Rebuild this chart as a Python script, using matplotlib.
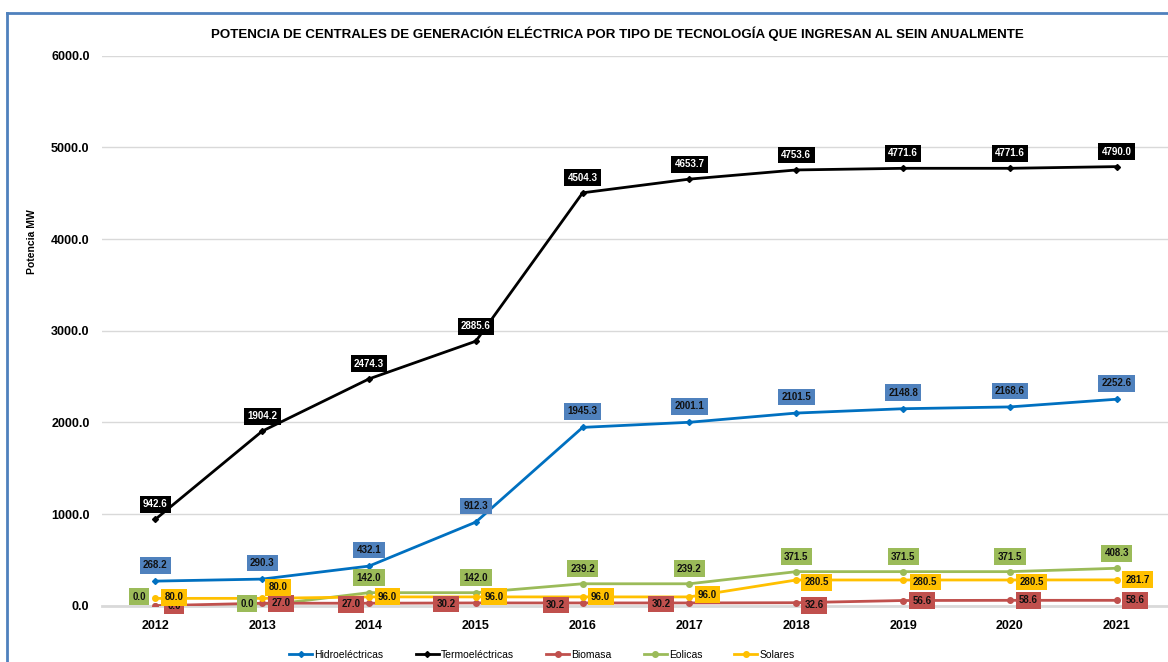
import matplotlib
matplotlib.use("Agg")
import matplotlib.pyplot as plt
from matplotlib.lines import Line2D

years = [2012, 2013, 2014, 2015, 2016, 2017, 2018, 2019, 2020, 2021]
hidro = [268.2, 290.3, 432.1, 912.3, 1945.3, 2001.1, 2101.5, 2148.8, 2168.6, 2252.6]
termo = [942.6, 1904.2, 2474.3, 2885.6, 4504.3, 4653.7, 4753.6, 4771.6, 4771.6, 4790.0]
biomasa = [0.0, 27.0, 27.0, 30.2, 30.2, 30.2, 32.6, 56.6, 58.6, 58.6]
eolicas = [0.0, 0.0, 142.0, 142.0, 239.2, 239.2, 371.5, 371.5, 371.5, 408.3]
solares = [80.0, 80.0, 96.0, 96.0, 96.0, 96.0, 280.5, 280.5, 280.5, 281.7]
series_names = ["Hidroeléctricas", "Termoeléctricas", "Biomasa", "Eolicas", "Solares"]
yticks = [0, 1000, 2000, 3000, 4000, 5000, 6000]

title = "POTENCIA DE CENTRALES DE GENERACIÓN ELÉCTRICA POR TIPO DE TECNOLOGÍA QUE INGRESAN AL SEIN ANUALMENTE"

FONT = ["Liberation Sans", "DejaVu Sans"]
plt.rcParams["font.family"] = FONT

# label offsets in pixels (dx right, dy up)
off_hidro = [(0, 16)] * 10
off_termo = [(0, 15)] * 10
off_bio = [(18.5, 0), (18.5, 0), (-18, -1), (-29.5, -1), (-27, -2), (-28.5, -1),
           (18, -2.5), (19, 0), (18.5, 0), (18.5, 0)]
off_eol = [(-16.5, 9), (-15, 2), (0, 15), (0, 15), (0, 15), (0, 15), (0, 15), (0, 15), (0, 15), (0, 15)]
off_sol = [(18.5, 1), (15.5, 11), (18.5, 0), (18, 0), (18, 0), (18, 2),
           (20.5, -2.5), (22, -2), (21.5, -2), (21, 0)]

W, H = 1168, 662
fig = plt.figure(figsize=(W / 100, H / 100), dpi=100)
ax = fig.add_axes([102 / W, 1 - 605.7 / H, 1 - 102 / W, (605.7 - 55.7) / H])

x_idx = list(range(len(years)))
specs = [
    (hidro, "#0070C0", "#4F81BD", "#111111", "D", off_hidro, 5, 20),
    (termo, "#000000", "#000000", "#FFFFFF", "D", off_termo, 6, 21),
    (biomasa, "#C0504D", "#C0504D", "#111111", "o", off_bio, 3, 22),
    (eolicas, "#9BBB59", "#9BBB59", "#111111", "o", off_eol, 2, 23),
    (solares, "#FFC000", "#FFC000", "#111111", "o", off_sol, 4, 24),
]
handles = []
for (vals, lc, bc, tc, mk, offs, z, lz), name in zip(specs, series_names):
    ms = 3 if mk == "D" else 4
    ax.plot(x_idx, vals, color=lc, lw=2.0, marker=mk, ms=ms, zorder=z)
    handles.append(Line2D([], [], color=lc, lw=2.0, marker=mk, ms=ms))
    for xi, v, (dx, dy) in zip(x_idx, vals, offs):
        ax.annotate(f"{v:.1f}", (xi, v), xytext=(dx * 0.72, dy * 0.72), textcoords="offset points",
                    ha="center", va="center", fontsize=7, fontweight="bold", color=tc,
                    bbox=dict(boxstyle="square,pad=0.35", fc=bc, ec="none"), zorder=lz)

ax.set_xlim(-0.5, 9.48)
ax.set_ylim(0, 6000)
ax.set_yticks(yticks)
ax.set_yticklabels([f"{t:.1f}" for t in yticks], fontsize=9, fontweight="bold")
ax.set_xticks(x_idx)
ax.set_xticklabels([str(y) for y in years], fontsize=9, fontweight="bold")
ax.tick_params(length=0)
ax.tick_params(axis="x", pad=10)
ax.tick_params(axis="y", pad=9)
ax.grid(axis="y", color="#D9D9D9", lw=1)
ax.set_axisbelow(True)
for s in ["top", "right", "left"]:
    ax.spines[s].set_visible(False)
ax.spines["bottom"].set_color("#D9D9D9")
ax.spines["bottom"].set_linewidth(2)

fig.text(617 / W, 1 - 34 / H, title, ha="center", va="center", fontsize=9.6, fontweight="bold")
fig.text(32 / W, 1 - 242 / H, "Potencia MW", rotation=90, ha="center", va="center",
         fontsize=7.5, fontweight="bold")

fig.legend(handles, series_names, loc="center", bbox_to_anchor=(542 / W, 1 - 655 / H),
           ncol=5, frameon=False, fontsize=7.5, columnspacing=3.1, handlelength=2.2,
           handletextpad=0.2)

# blue border
fig.add_artist(Line2D([6.5 / W, 6.5 / W], [0, 1 - 13 / H], color="#4F81BD", lw=2, transform=fig.transFigure))
fig.add_artist(Line2D([6.5 / W, 1], [1 - 13 / H, 1 - 13 / H], color="#4F81BD", lw=2, transform=fig.transFigure))

fig.savefig("out.png", dpi=100)
